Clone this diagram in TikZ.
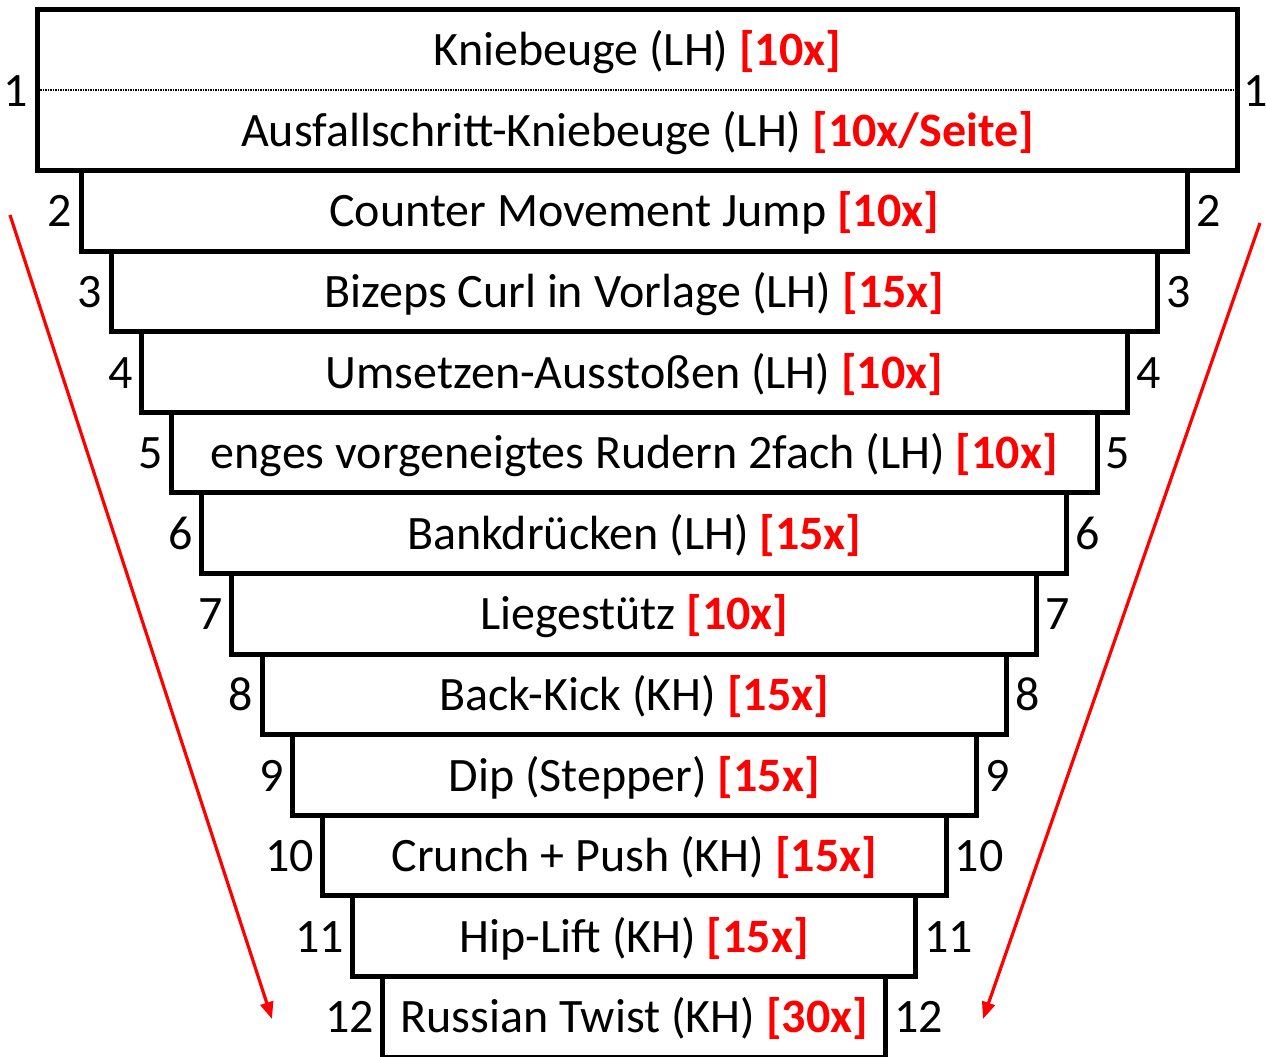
\documentclass[tikz,border=0pt]{standalone}
\usepackage{fontspec}
\setmainfont{Carlito}
\usetikzlibrary{arrows.meta}
\begin{document}
\begin{tikzpicture}[x=1pt,y=-1pt,
  box/.style={draw=black, line width=5pt, fill=white, inner sep=0pt, minimum height=80.6pt,
    text height=32pt, text depth=0pt, font=\fontsize{48}{48}\selectfont},
  txt/.style={inner sep=0pt, text height=32pt, text depth=0pt, font=\fontsize{48}{48}\selectfont},
  lbl/.style={inner sep=0pt, text height=32pt, text depth=0pt, font=\fontsize{48}{48}\selectfont},
  trend/.style={draw=red, line width=3.2pt, -{Triangle[length=17pt,width=13pt]}}]
\useasboundingbox (0,0) rectangle (1266,1057);
% box 1 (two exercises)
\node[box, minimum width=1200pt, minimum height=160.5pt] (b1) at (637.5,90.25) {};
\coordinate (dl) at (40,90);
\coordinate (dr) at (1235,90);
\draw[line width=2.5pt, dash pattern=on 1.5pt off 1pt] (dl) -- (dr);
\node[txt] (t1a) at (637.5,50) {Kniebeuge (LH) {\color{red}\bfseries[10x]}};
\node[txt] (t1b) at (637.5,130.5) {Ausfallschritt-Kniebeuge (LH) {\color{red}\bfseries[10x/Seite]}};
\node[lbl, anchor=east] (l1) at ([xshift=-7pt]b1.west) {1};
\node[lbl, anchor=west] (r1) at ([xshift=3pt]b1.east) {1};
% remaining boxes
\foreach \k/\hw/\t in {
  2/553.25/{Counter Movement Jump {\color{red}\bfseries[10x]}},
  3/523.25/{Bizeps Curl in Vorlage (LH) {\color{red}\bfseries[15x]}},
  4/493.05/{Umsetzen-Ausstoßen (LH) {\color{red}\bfseries[10x]}},
  5/462.85/{enges vorgeneigtes Rudern 2fach (LH) {\color{red}\bfseries[10x]}},
  6/432.65/{Bankdrücken (LH) {\color{red}\bfseries[15x]}},
  7/402.45/{Liegestütz {\color{red}\bfseries[10x]}},
  8/372.25/{Back-Kick (KH) {\color{red}\bfseries[15x]}},
  9/342.05/{Dip (Stepper) {\color{red}\bfseries[15x]}},
  10/311.85/{Crunch + Push (KH) {\color{red}\bfseries[15x]}},
  11/281.65/{Hip-Lift (KH) {\color{red}\bfseries[15x]}},
  12/251.45/{Russian Twist (KH) {\color{red}\bfseries[30x]}}}{
  \node[box, minimum width=2*\hw pt] (b\k) at (634.25,{170.5+(\k-1.5)*80.6}) {\t};
  \node[lbl, anchor=east] (l\k) at ([xshift=-6pt]b\k.west) {\k};
  \node[lbl, anchor=west] (r\k) at ([xshift=6pt]b\k.east) {\k};
}
% trend arrows
\coordinate (as) at (10,215);
\coordinate (ae) at (272,1019);
\coordinate (bs) at (1260,223);
\coordinate (be) at (983,1019);
\draw[trend] (as) -- (ae);
\draw[trend] (bs) -- (be);
\end{tikzpicture}
\end{document}
